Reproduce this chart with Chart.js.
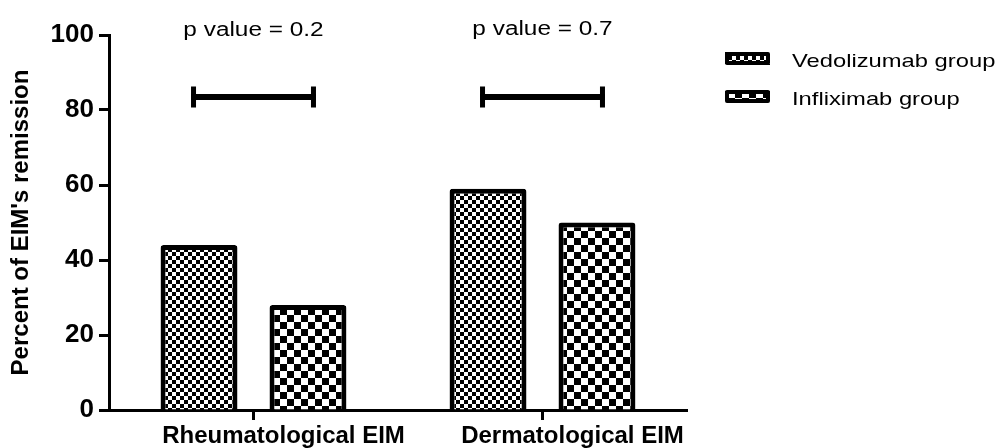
<!DOCTYPE html>
<html>
<head>
<meta charset="utf-8">
<script src="https://cdn.jsdelivr.net/npm/chart.js@4.4.1/dist/chart.umd.min.js"></script>
<style>
  html, body { margin: 0; padding: 0; background: #fff; }
  #wrap { width: 1005px; height: 448px; }
</style>
</head>
<body>
<div id="wrap"><canvas id="chart" width="1005" height="448"></canvas></div>
<script>
// Remission of extra-intestinal manifestations by treatment group
const categories = ['Rheumatological EIM', 'Dermatological EIM'];
const seriesNames = ['Vedolizumab group', 'Infliximab group'];
const vedolizumab = [44, 59];
const infliximab = [28, 50];
const yTicks = [0, 20, 40, 60, 80, 100];
const pValueLabels = ['p value = 0.2', 'p value = 0.7'];
const bracketLevel = [83.5, 83.5];

const FONT = '"Liberation Sans", Arial, Helvetica, sans-serif';
const WIDE = 1.25; // horizontal stretch of the annotation / legend lettering

// black/white checkerboard fill
function checker(cell) {
  const c = document.createElement('canvas');
  c.width = c.height = cell * 2;
  const g = c.getContext('2d');
  g.fillStyle = '#fff';
  g.fillRect(0, 0, cell * 2, cell * 2);
  g.fillStyle = '#000';
  g.fillRect(0, 0, cell, cell);
  g.fillRect(cell, cell, cell, cell);
  return g.createPattern(c, 'repeat');
}

const fineChecks = checker(4);
const coarseChecks = checker(7);

// text drawn with a horizontal stretch
function wideText(ctx, text, x, y, align) {
  ctx.save();
  ctx.translate(x, y);
  ctx.scale(WIDE, 1);
  ctx.textAlign = align;
  ctx.textBaseline = 'alphabetic';
  ctx.fillText(text, 0, 0);
  ctx.restore();
}

// comparison brackets spanning each pair of bars, with the p value above
const comparisonPlugin = {
  id: 'comparisons',
  afterDatasetsDraw(chart) {
    const ctx = chart.ctx;
    const y = chart.scales.y;
    const x = chart.scales.x;
    const m0 = chart.getDatasetMeta(0).data;
    const m1 = chart.getDatasetMeta(1).data;
    const ext = 8, lw = 6, capW = 5, capH = 21;
    ctx.save();
    ctx.fillStyle = '#000';
    categories.forEach((cat, i) => {
      const left = m0[i].x - ext;
      const right = m1[i].x + ext;
      const py = Math.round(y.getPixelForValue(bracketLevel[i]));
      ctx.fillRect(left, py - lw / 2, right - left, lw);
      ctx.fillRect(left, py - capH / 2, capW, capH);
      ctx.fillRect(right - capW, py - capH / 2, capW, capH);
    });
    ctx.font = '19.5px ' + FONT;
    categories.forEach((cat, i) => {
      wideText(ctx, pValueLabels[i], x.getPixelForValue(i), chart.chartArea.top + 1 - i, 'center');
    });
    ctx.restore();
  }
};

// legend on the right with patterned swatches
const sideLegend = {
  id: 'sideLegend',
  afterDraw(chart) {
    const ctx = chart.ctx;
    const a = chart.chartArea;
    const x0 = a.right + 38;
    const y0 = a.top + 17;
    const gap = 38;
    chart.data.datasets.forEach((ds, i) => {
      const top = y0 + i * gap;
      ctx.save();
      ctx.fillStyle = ds.backgroundColor;
      ctx.fillRect(x0, top, 45, 13);
      ctx.strokeStyle = '#000';
      ctx.lineWidth = 4;
      ctx.lineJoin = 'round';
      ctx.strokeRect(x0 + 2, top + 2, 41, 9);
      ctx.fillStyle = '#000';
      ctx.font = '19px ' + FONT;
      wideText(ctx, ds.label, x0 + 67, top + 14.5, 'left');
      ctx.restore();
    });
  }
};

new Chart(document.getElementById('chart'), {
  type: 'bar',
  data: {
    labels: categories,
    datasets: [
      {
        label: seriesNames[0],
        data: vedolizumab,
        backgroundColor: fineChecks,
        borderColor: '#000',
        borderWidth: 5,
        borderSkipped: 'start',
        borderRadius: 3
      },
      {
        label: seriesNames[1],
        data: infliximab,
        backgroundColor: coarseChecks,
        borderColor: '#000',
        borderWidth: 5,
        borderSkipped: 'start',
        borderRadius: 3
      }
    ]
  },
  options: {
    responsive: false,
    maintainAspectRatio: false,
    animation: false,
    datasets: {
      bar: { categoryPercentage: 0.754, barPercentage: 0.706 }
    },
    layout: { padding: { top: 35, right: 318, bottom: 0, left: 0 } },
    plugins: {
      legend: { display: false },
      tooltip: { enabled: false },
      title: { display: false }
    },
    scales: {
      x: {
        type: 'category',
        offset: true,
        z: 1,
        grid: {
          display: true,
          drawOnChartArea: false,
          offset: false,
          tickLength: 10,
          tickWidth: 3,
          tickColor: '#000'
        },
        border: { display: true, color: '#000', width: 3 },
        ticks: {
          color: '#000',
          font: { family: FONT, size: 24, weight: 'bold' },
          padding: 2,
          maxRotation: 0,
          autoSkip: false,
          labelOffset: 30
        },
        afterFit(scale) { scale.height = 38; }
      },
      y: {
        min: 0,
        max: 100,
        grid: {
          display: true,
          drawOnChartArea: false,
          tickLength: 10,
          tickWidth: 3,
          tickColor: '#000'
        },
        border: { display: true, color: '#000', width: 3 },
        ticks: {
          color: '#000',
          font: { family: FONT, size: 26, weight: 'bold' },
          padding: 5
        },
        afterBuildTicks(scale) {
          scale.ticks = yTicks.map(v => ({ value: v }));
        },
        title: {
          display: true,
          text: "Percent of EIM's remission",
          color: '#000',
          font: { family: FONT, size: 24, weight: 'bold' },
          padding: { top: 7, bottom: 0 }
        },
        afterFit(scale) { scale.width = 109; }
      }
    }
  },
  plugins: [comparisonPlugin, sideLegend]
});
</script>
</body>
</html>
